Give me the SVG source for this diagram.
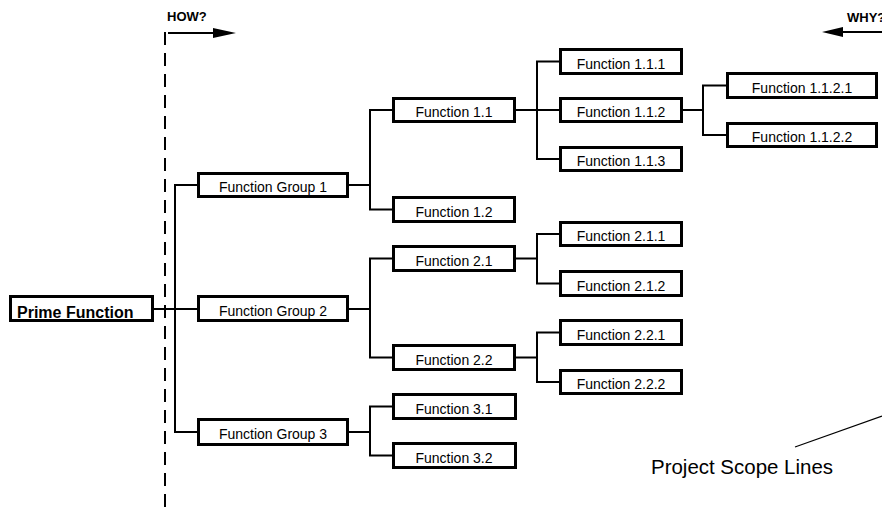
<svg xmlns="http://www.w3.org/2000/svg" width="882" height="510" viewBox="0 0 882 510">
<style>
  .box rect { fill: #ffffff; stroke: #000000; stroke-width: 3; }
  .box text { font-family: "Liberation Sans", Arial, sans-serif; font-size: 14px; fill: #000; text-anchor: middle; }
  .conn line, .conn path { stroke: #000; stroke-width: 2; fill: none; }
  .lbl { font-family: "Liberation Sans", Arial, sans-serif; fill: #000; }
</style>
<rect width="882" height="510" fill="#ffffff"/>

<!-- scope lines, arrows, labels -->
<g id="scope">
  <line x1="165" y1="32" x2="165" y2="510" stroke="#000" stroke-width="2" stroke-dasharray="13 8"/>
  <text class="lbl" x="167" y="21" font-size="13" font-weight="bold">HOW?</text>
  <line x1="168" y1="33" x2="214" y2="33" stroke="#000" stroke-width="2"/>
  <polygon points="213,28 236,33 213,38" fill="#000"/>
  <text class="lbl" x="847" y="22" font-size="13" font-weight="bold">WHY?</text>
  <line x1="842" y1="32" x2="882" y2="32" stroke="#000" stroke-width="2"/>
  <polygon points="843,27 822,32 843,37" fill="#000"/>
  <line x1="795" y1="447" x2="882" y2="416" stroke="#000" stroke-width="1.3"/>
  <text class="lbl" x="651" y="474" font-size="20" textLength="182" lengthAdjust="spacingAndGlyphs">Project Scope Lines</text>
</g>

<g id="connectors" class="conn">
  <line x1="154" y1="309" x2="197" y2="309"/>
  <path d="M197,185 H175 V432 H197"/>
  <path d="M349,185 H370"/>
  <path d="M392,110 H370 V209.5 H392"/>
  <path d="M349,309 H370"/>
  <path d="M392,258.5 H370 V357.5 H392"/>
  <path d="M349,432 H370"/>
  <path d="M392,406.5 H370 V455.5 H392"/>
  <path d="M516,110 H559"/>
  <path d="M559,61.5 H537 V159 H559"/>
  <path d="M516,258.5 H537"/>
  <path d="M559,234 H537 V283.5 H559"/>
  <path d="M516,357.5 H537"/>
  <path d="M559,332.5 H537 V382 H559"/>
  <path d="M683,110 H703"/>
  <path d="M726,85.5 H703 V135 H726"/>
</g>

<g id="prime" class="box">
  <rect x="10.5" y="296.5" width="142" height="24"/>
  <text x="17" y="318" style="text-anchor:start;font-weight:bold;font-size:16px">Prime Function</text>
</g>

<g id="g1" class="box"><rect x="198.5" y="173.5" width="149" height="23"/><text x="273" y="192">Function Group 1</text></g>
<g id="g2" class="box"><rect x="198.5" y="296.5" width="149" height="24"/><text x="273" y="315.5">Function Group 2</text></g>
<g id="g3" class="box"><rect x="198.5" y="419.5" width="149" height="25"/><text x="273" y="439">Function Group 3</text></g>

<g id="f1_1" class="box"><rect x="393.5" y="98.5" width="121" height="23"/><text x="454" y="117">Function 1.1</text></g>
<g id="f1_2" class="box"><rect x="393.5" y="197.5" width="121" height="24"/><text x="454" y="216.5">Function 1.2</text></g>
<g id="f2_1" class="box"><rect x="393.5" y="246.5" width="121" height="24"/><text x="454" y="265.5">Function 2.1</text></g>
<g id="f2_2" class="box"><rect x="393.5" y="345.5" width="121" height="24"/><text x="454" y="364.5">Function 2.2</text></g>
<g id="f3_1" class="box"><rect x="393.5" y="394.5" width="122" height="24"/><text x="454" y="413.5">Function 3.1</text></g>
<g id="f3_2" class="box"><rect x="393.5" y="443.5" width="122" height="24"/><text x="454" y="462.5">Function 3.2</text></g>

<g id="f1_1_1" class="box"><rect x="560.5" y="49.5" width="121" height="24"/><text x="621" y="68.5">Function 1.1.1</text></g>
<g id="f1_1_2" class="box"><rect x="560.5" y="98.5" width="121" height="23"/><text x="621" y="117">Function 1.1.2</text></g>
<g id="f1_1_3" class="box"><rect x="560.5" y="147.5" width="121" height="23"/><text x="621" y="166">Function 1.1.3</text></g>
<g id="f2_1_1" class="box"><rect x="560.5" y="222.5" width="121" height="23"/><text x="621" y="241">Function 2.1.1</text></g>
<g id="f2_1_2" class="box"><rect x="560.5" y="271.5" width="121" height="24"/><text x="621" y="290.5">Function 2.1.2</text></g>
<g id="f2_2_1" class="box"><rect x="560.5" y="320.5" width="121" height="24"/><text x="621" y="339.5">Function 2.2.1</text></g>
<g id="f2_2_2" class="box"><rect x="560.5" y="370.5" width="121" height="23"/><text x="621" y="389">Function 2.2.2</text></g>

<g id="f1_1_2_1" class="box"><rect x="727.5" y="73.5" width="149" height="24"/><text x="802" y="92.5">Function 1.1.2.1</text></g>
<g id="f1_1_2_2" class="box"><rect x="727.5" y="123.5" width="149" height="23"/><text x="802" y="142">Function 1.1.2.2</text></g>
</svg>
